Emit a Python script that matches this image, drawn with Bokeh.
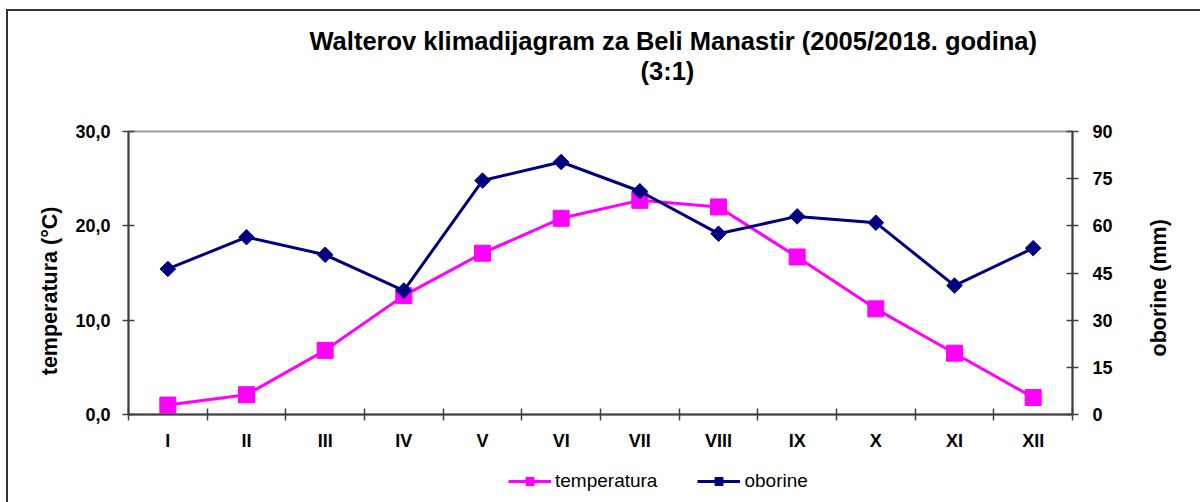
import math
from bokeh.plotting import figure
from bokeh.layouts import column, row
from bokeh.models import (Range1d, LinearAxis, FixedTicker, Title, Legend, LegendItem)
from bokeh.embed import file_html
from bokeh.resources import INLINE

months = ["I", "II", "III", "IV", "V", "VI", "VII", "VIII", "IX", "X", "XI", "XII"]
temperatura = [1.0, 2.1, 6.8, 12.6, 17.1, 20.8, 22.7, 22.0, 16.7, 11.2, 6.5, 1.8]
oborine = [46.3, 56.4, 50.8, 39.4, 74.4, 80.3, 71.0, 57.5, 63.0, 61.0, 41.0, 52.9]
temp_ticks = [0, 10, 20, 30]
temp_tick_labels = ["0,0", "10,0", "20,0", "30,0"]
prec_ticks = [0, 15, 30, 45, 60, 75, 90]

title_line1 = "Walterov klimadijagram za Beli Manastir (2005/2018. godina)"
title_line2 = "(3:1)"
temp_axis_title = "temperatura (°C)"
prec_axis_title = "oborine (mm)"
series_names = ["temperatura", "oborine"]

FONT = "Liberation Sans"
AX = "#404040"
MAG = "#FF00FF"
NAVY = "#000080"
NBSP = "\u00a0"

xs = [i + 0.5 for i, _ in enumerate(months)]

W = 1192
PW = 1109
p = figure(width=PW, height=444, output_backend="svg", toolbar_location=None,
           x_range=Range1d(0, len(months)), y_range=Range1d(0, 30),
           min_border_left=120, min_border_right=45, min_border_top=120,
           min_border_bottom=41, x_axis_location=None, y_axis_location=None)
p.grid.visible = False
p.outline_line_color = "#9a9a9a"
p.outline_line_width = 2
p.border_fill_color = "white"
p.extra_y_ranges = {"prec": Range1d(0, 90)}

# x axis: labels at month centres, tick marks between months
xaxis = LinearAxis(ticker=FixedTicker(ticks=xs, minor_ticks=list(range(0, len(months) + 1))),
                   major_label_overrides={x: m for x, m in zip(xs, months)})
xaxis.major_tick_line_color = None
xaxis.major_tick_in = 0
xaxis.major_tick_out = 6
xaxis.minor_tick_in = 6
xaxis.minor_tick_out = 6
xaxis.minor_tick_line_color = AX
xaxis.minor_tick_line_width = 1.5
xaxis.axis_line_color = AX
xaxis.axis_line_width = 2
xaxis.major_label_standoff = 10
xaxis.major_label_text_font = FONT
xaxis.major_label_text_font_style = "bold"
xaxis.major_label_text_font_size = "18px"
xaxis.major_label_text_color = "black"
p.add_layout(xaxis, "below")

# left axis title padded at its end so the visible words sit a little lower
yaxis = LinearAxis(ticker=FixedTicker(ticks=temp_ticks, minor_ticks=[]),
                   major_label_overrides={t: l for t, l in zip(temp_ticks, temp_tick_labels)},
                   axis_label=temp_axis_title + NBSP * 6)
p.add_layout(yaxis, "left")

raxis = LinearAxis(y_range_name="prec", ticker=FixedTicker(ticks=prec_ticks, minor_ticks=[]))
p.add_layout(raxis, "right")

for ax in [yaxis, raxis]:
    ax.major_tick_in = 6
    ax.major_tick_out = 6
    ax.major_tick_line_color = AX
    ax.major_tick_line_width = 1.5
    ax.minor_tick_line_color = None
    ax.axis_line_color = AX
    ax.axis_line_width = 2
    ax.major_label_text_font = FONT
    ax.major_label_text_font_style = "bold"
    ax.major_label_text_font_size = "18px"
    ax.major_label_text_color = "black"
    ax.axis_label_text_font = FONT
    ax.axis_label_text_font_style = "bold"
    ax.axis_label_text_font_size = "21.5px"
    ax.axis_label_text_color = "black"
yaxis.major_label_standoff = 12
yaxis.axis_label_standoff = 10
raxis.major_label_standoff = 14

# series
p.line(xs, temperatura, line_color=MAG, line_width=3)
p.scatter(xs, temperatura, marker="square", size=16, fill_color=MAG, line_color=MAG)
p.line(xs, oborine, line_color=NAVY, line_width=3, y_range_name="prec")
p.scatter(xs, oborine, marker="square", angle=math.pi / 4, size=11,
          fill_color=NAVY, line_color=NAVY, y_range_name="prec")

# title: spacer nearest the frame, then line 2, then line 1
spacer = Title(text=" ", text_font_size="10px", standoff=34)
t2 = Title(text=title_line2, align="left", offset=512, standoff=0,
           text_font=FONT, text_font_style="bold", text_font_size="25.5px",
           text_color="black")
t1 = Title(text=title_line1, align="left", offset=181, standoff=0,
           text_font=FONT, text_font_style="bold", text_font_size="25.5px",
           text_color="black")
p.add_layout(spacer, "above")
p.add_layout(t2, "above")
p.add_layout(t1, "above")

# strip to the right holding the secondary axis title (reads bottom to top)
r = figure(width=W - PW, height=444, output_backend="svg", toolbar_location=None,
           min_border_left=53, min_border_right=0, min_border_top=0, min_border_bottom=0,
           x_axis_location=None, y_axis_location=None)
r.grid.visible = False
r.outline_line_color = None
r.border_fill_color = "white"
r.title.visible = False
r.add_layout(Title(text=prec_axis_title, align="left", offset=58, standoff=0,
                   text_font=FONT, text_font_style="bold", text_font_size="21.5px",
                   text_color="black"), "left")

# legend strip below the chart (same series, drawn outside this strip's visible range)
q = figure(width=W, height=47, output_backend="svg", toolbar_location=None,
           x_range=Range1d(0, len(months)), y_range=Range1d(-2, -1), min_border=0,
           x_axis_location=None, y_axis_location=None)
q.grid.visible = False
q.outline_line_color = None
q.border_fill_color = "white"
lg1 = q.line(xs, temperatura, line_color=MAG, line_width=3)
sg1 = q.scatter(xs, temperatura, marker="square", size=16, fill_color=MAG, line_color=MAG)
lg2 = q.line(xs, oborine, line_color=NAVY, line_width=3)
sg2 = q.scatter(xs, oborine, marker="square", angle=math.pi / 4, size=11,
                fill_color=NAVY, line_color=NAVY)
legend = Legend(items=[LegendItem(label=series_names[0], renderers=[lg1, sg1]),
                       LegendItem(label=series_names[1], renderers=[lg2, sg2])],
                orientation="horizontal", location=(500, 10),
                label_text_font=FONT, label_text_font_size="19px",
                label_text_color="black", glyph_width=43, glyph_height=20,
                label_standoff=4, spacing=40, padding=4, margin=0,
                border_line_color=None, background_fill_alpha=0)
q.add_layout(legend, "center")

layout = column(row(p, r, spacing=0), q, spacing=0)
layout.styles = {"border-top": "2px solid #333333", "border-left": "2px solid #333333",
                 "margin-left": "6px", "margin-top": "9px"}

open("out.html", "w").write(file_html(layout, INLINE))
